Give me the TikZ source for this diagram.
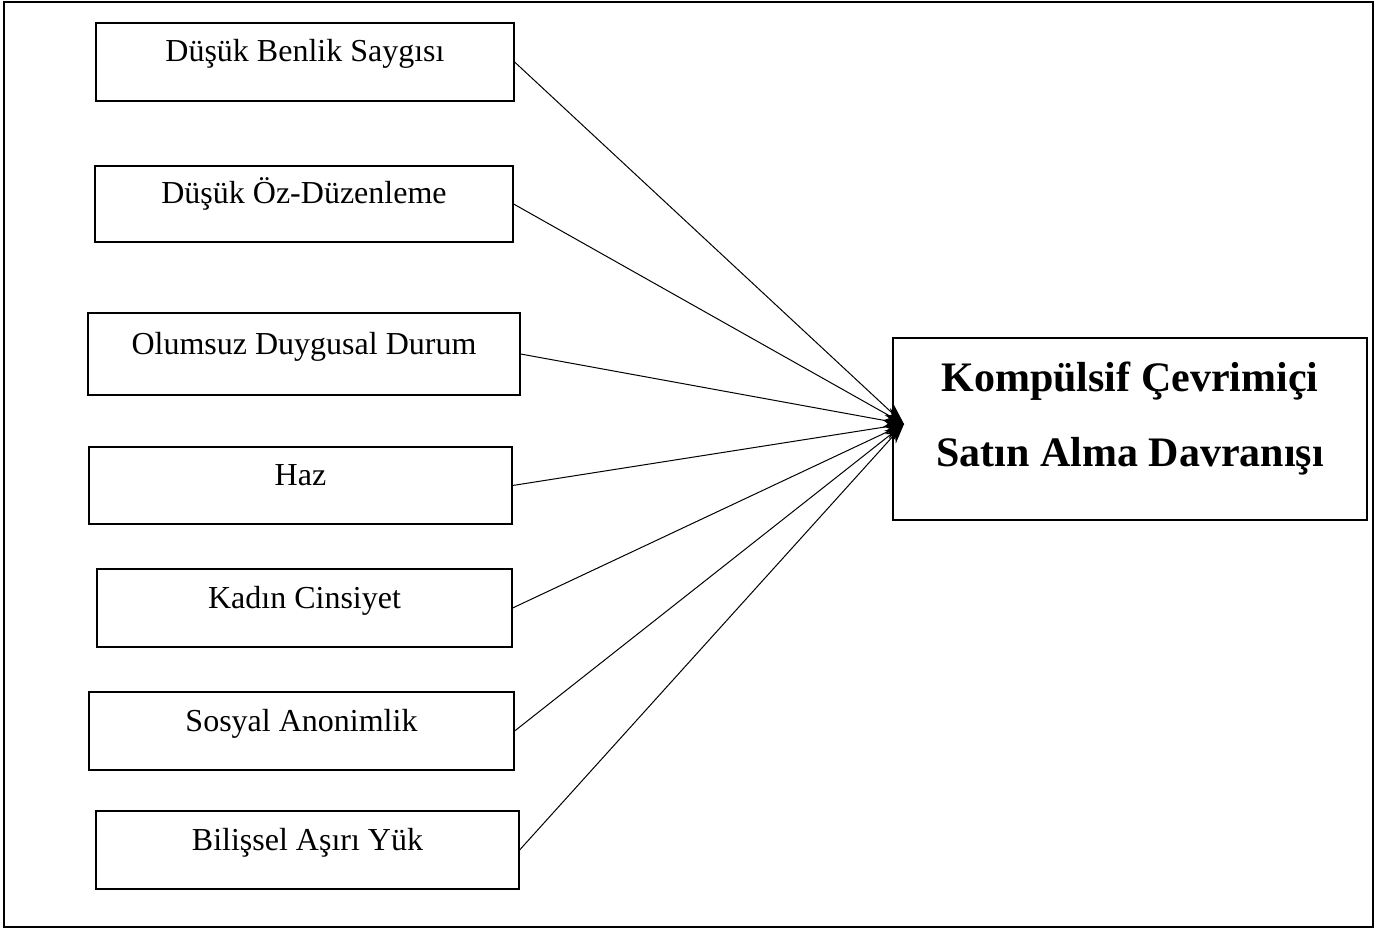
\documentclass[tikz,border=0pt]{standalone}
\usepackage{fontspec}
\setmainfont{Liberation Serif}
\usetikzlibrary{arrows.meta}
\tikzset{>={Stealth[width=14pt,length=20pt]}}
\tikzset{
  factor/.style={draw, line width=1.2pt, inner sep=0pt, text height=10pt, text depth=10pt,
    font=\fontsize{32}{38}\selectfont},
  outcome/.style={draw, line width=1.2pt, inner sep=0pt, align=center,
    font=\bfseries\fontsize{42}{75}\selectfont},
  link/.style={->, line width=1pt}
}

\begin{document}
\begin{tikzpicture}[x=1pt,y=-1pt]
\useasboundingbox (0,0) rectangle (1392,933);
\draw[line width=2pt] (4,2) rectangle (1373,927);

% predictors
\node[factor, minimum width=418, minimum height=78] (benlik) at (305,62) {Düşük Benlik Saygısı};
\node[factor, minimum width=418, minimum height=76] (ozduz) at (304,204) {Düşük Öz-Düzenleme};
\node[factor, minimum width=432, minimum height=82] (duygu) at (304,354) {Olumsuz Duygusal Durum};
\node[factor, minimum width=423, minimum height=77] (haz) at (300.5,485.5) {Haz};
\node[factor, minimum width=415, minimum height=78] (kadin) at (304.5,608) {Kadın Cinsiyet};
\node[factor, minimum width=425, minimum height=78] (anonim) at (301.5,731) {Sosyal Anonimlik};
\node[factor, minimum width=423, minimum height=78] (yuk) at (307.5,850) {Bilişsel Aşırı Yük};

% outcome
\node[outcome, minimum width=474, minimum height=182] (satin) at (1130,429)
  {\rule{0pt}{32pt}Kompülsif Çevrimiçi\\Satın Alma Davranışı\rule[-32pt]{0pt}{32pt}};
\coordinate (tip) at (904,424);

\draw[link] (benlik.east) -- (tip);
\draw[link] (ozduz.east) -- (tip);
\draw[link] (duygu.east) -- (tip);
\draw[link] (haz.east) -- (tip);
\draw[link] (kadin.east) -- (tip);
\draw[link] (anonim.east) -- (tip);
\draw[link] (yuk.east) -- (tip);

\end{tikzpicture}
\end{document}
